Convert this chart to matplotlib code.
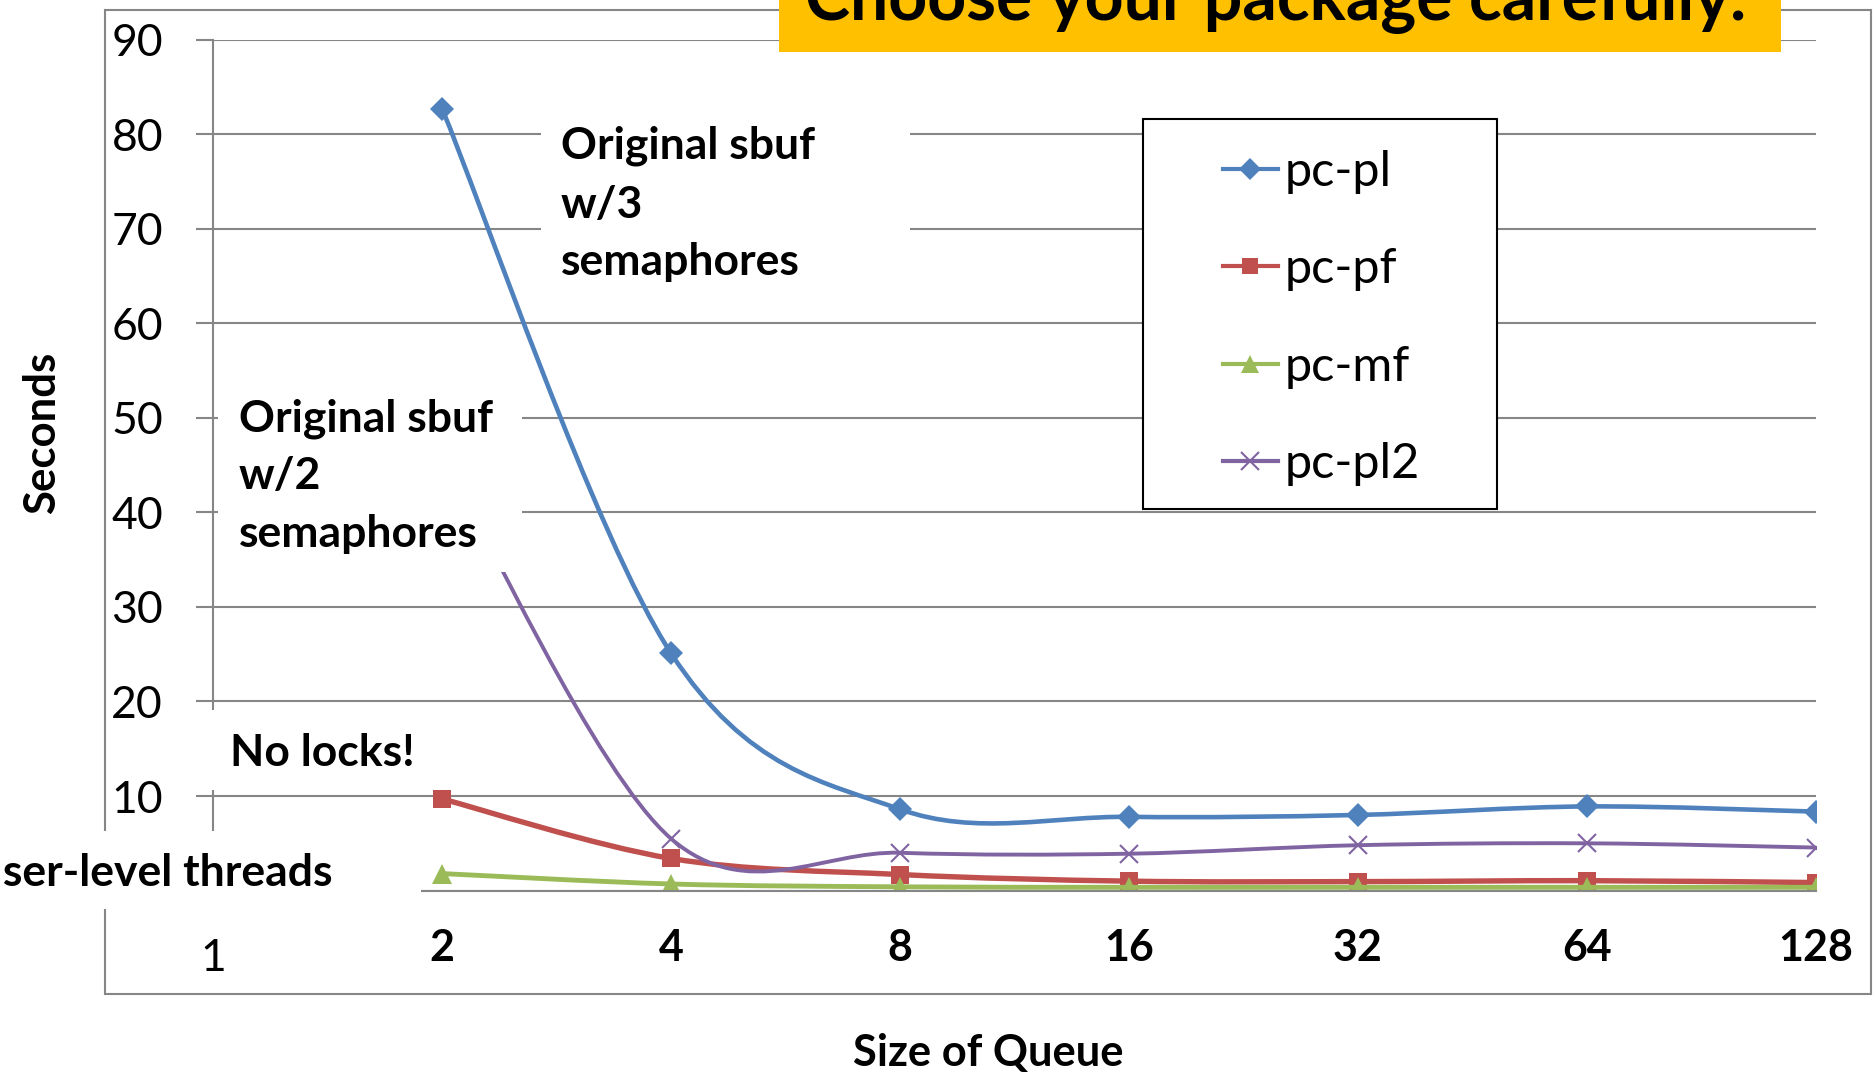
import matplotlib.pyplot as plt
from matplotlib.patches import Rectangle, PathPatch
from matplotlib.path import Path
from matplotlib.lines import Line2D
from matplotlib.transforms import ScaledTranslation
import numpy as np

W, H = 1876, 1075

# data
sizes = ['1', '2', '4', '8', '16', '32', '64', '128']
pc_pl = [82.7, 25.1, 8.6, 7.8, 8.0, 8.9, 8.35]
pc_pf = [9.7, 3.4, 1.7, 1.0, 0.95, 1.05, 0.85]
pc_mf = [1.8, 0.7, 0.4, 0.35, 0.35, 0.35, 0.35]
pc_pl2 = [46.0, 5.5, 4.0, 3.9, 4.8, 5.0, 4.55]
series_names = ['pc-pl', 'pc-pf', 'pc-mf', 'pc-pl2']
y_ticks = list(range(0, 100, 10))


def fx(px):
    return px / W


def fy(py):
    return 1 - py / H


def smooth(xs, ys):
    # excel style smoothed line (bezier, tension 1/6)
    pts = np.column_stack([xs, ys]).astype(float)
    n = len(pts)
    verts = [pts[0]]
    codes = [Path.MOVETO]
    for i in range(n - 1):
        p_prev = pts[max(i - 1, 0)]
        p_next = pts[min(i + 2, n - 1)]
        c1 = pts[i] + (pts[i + 1] - p_prev) / 6
        c2 = pts[i + 1] - (p_next - pts[i]) / 6
        verts += [c1, c2, pts[i + 1]]
        codes += [Path.CURVE4] * 3
    return Path(verts, codes)


plt.rcParams['font.family'] = ['Lato', 'DejaVu Sans']
grid_col = '#868686'

fig = plt.figure(figsize=(W / 100, H / 100), dpi=100)
ax = fig.add_axes([fx(213), fy(890.6), fx(1816) - fx(213), fy(39.5) - fy(890.6)])
ax.set_facecolor('none')

xs = np.arange(1, len(sizes))
styles = [
    (pc_pl, '#4F81BD', 'D', 12, 3.3),
    (pc_pf, '#C0504D', 's', 13, 3.9),
    (pc_mf, '#9BBB59', '^', 14, 3.5),
    (pc_pl2, '#8064A2', 'x', 13, 2.8),
]
handles = []
for k, (vals, col, mk, ms, lw) in enumerate(styles):
    ax.add_patch(PathPatch(smooth(xs, vals), fill=False, edgecolor=col, lw=lw,
                           capstyle='round', joinstyle='round', zorder=2 + k * 0.1))
    if mk == 'x':
        ax.plot(xs, vals, ls='none', marker=mk, ms=ms, mec=col, mew=1.5, zorder=2.05 + k * 0.1)
        handles.append(Line2D([], [], color=col, lw=3, marker=mk, ms=ms, mew=1.5))
    else:
        ax.plot(xs, vals, ls='none', marker=mk, ms=ms, color=col, mew=0, zorder=2.05 + k * 0.1)
        handles.append(Line2D([], [], color=col, lw=3, marker=mk, ms=ms - 1, mew=0))

ax.set_xlim(0, len(sizes) - 1)
ax.set_ylim(0, 90)
ax.set_yticks(y_ticks)
ax.set_xticks(range(len(sizes)))
ax.grid(axis='y', color=grid_col, lw=1.5)
ax.set_axisbelow(True)
for s in ['top', 'right']:
    ax.spines[s].set_visible(False)
for s in ['left', 'bottom']:
    ax.spines[s].set_color(grid_col)
    ax.spines[s].set_linewidth(1.5)
ax.tick_params(axis='y', length=12, width=1.5, color=grid_col, pad=24, labelsize=32)
ax.tick_params(axis='x', length=0, pad=27, labelsize=31)
ax.set_xticklabels(sizes, fontweight='bold')
first = ax.get_xticklabels()[0]
first.set_fontweight('normal')
first.set_fontsize(32)
first.set_transform(first.get_transform() + ScaledTranslation(0, -7 / 72, fig.dpi_scale_trans))

# outer chart border
fig.add_artist(Rectangle((fx(105), fy(993.5)), fx(1871) - fx(105), fy(9.6) - fy(993.5),
                         transform=fig.transFigure, fill=False, ec=grid_col, lw=1.5, zorder=1))

# white text boxes over the plot
boxes = [(541, 114, 910, 293), (218, 383, 522, 572), (210, 710, 431, 790), (0, 831, 421, 909)]
for x0, y0, x1, y1 in boxes:
    fig.add_artist(Rectangle((fx(x0), fy(y1)), fx(x1) - fx(x0), fy(y0) - fy(y1),
                             transform=fig.transFigure, fc='white', ec='none', zorder=2))


def note(x, lines, ys, ha='left'):
    for s, y in zip(lines, ys):
        fig.text(fx(x), fy(y), s, ha=ha, va='center', fontsize=32, fontweight='bold', zorder=3)


note(561, ['Original sbuf', 'w/3', 'semaphores'], [146, 205, 262])
note(239, ['Original sbuf', 'w/2', 'semaphores'], [419, 476, 534])
note(230, ['No locks!'], [753])
note(332, ['User-level threads'], [873], ha='right')

# title banner
fig.add_artist(Rectangle((fx(779), fy(52)), fx(1781) - fx(779), fy(-10) - fy(52),
                         transform=fig.transFigure, fc='#FFC000', ec='none', zorder=2))
fig.text(fx(1276), fy(20), 'Choose your package carefully.', ha='center', va='baseline',
         fontsize=49, fontweight='bold', zorder=3)

fig.text(fx(42), fy(433), 'Seconds', rotation=90, ha='center', va='center',
         fontsize=31.5, fontweight='bold')
fig.text(fx(988), fy(1053), 'Size of Queue', ha='center', va='center',
         fontsize=31.3, fontweight='bold')

# legend
fig.add_artist(Rectangle((fx(1143), fy(508.7)), fx(1497) - fx(1143), fy(118.5) - fy(508.7),
                         transform=fig.transFigure, fc='white', ec='black', lw=1.5, zorder=4))
fig.legend(handles, series_names, loc='upper left', bbox_to_anchor=(fx(1223), fy(150)),
           bbox_transform=fig.transFigure, frameon=False, fontsize=35, borderpad=0,
           borderaxespad=0, handlelength=1.13, handletextpad=0.13, labelspacing=1.1,
           numpoints=1)

fig.savefig('out.png', dpi=100)
